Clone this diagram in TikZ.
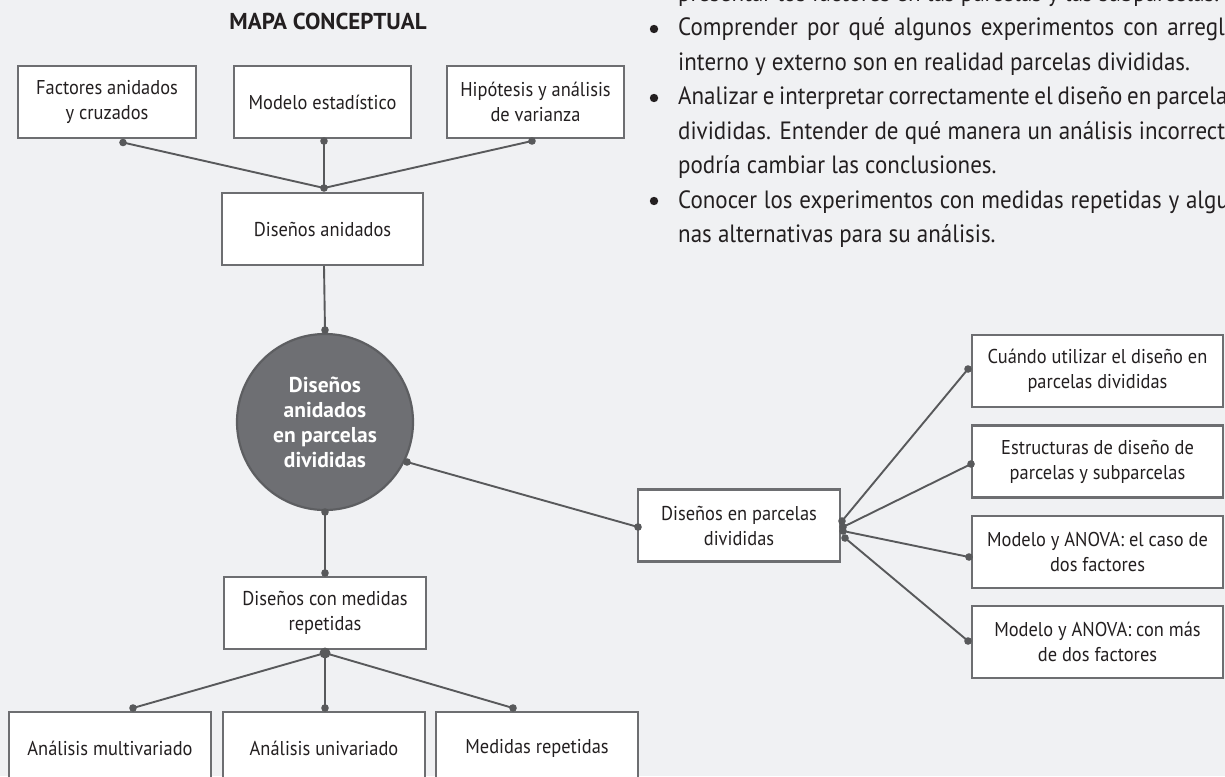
\documentclass[tikz,border=0pt]{standalone}
\usepackage{fontspec}
\setmainfont[FakeStretch=0.92, BoldFeatures={FakeStretch=1.0}]{PT Sans}
\definecolor{bg}{HTML}{F0F1F3}
\definecolor{bordc}{HTML}{6D6E71}
\definecolor{linec}{HTML}{58595B}
\definecolor{circf}{HTML}{6E6F73}
\definecolor{circd}{HTML}{5D5E61}
\definecolor{txt}{HTML}{231F20}
\newcommand{\jline}[1]{\makebox[559pt][s]{#1}}
\begin{document}
\begin{tikzpicture}[x=1pt,y=-1pt,
  box/.style={draw=bordc, line width=2.2pt, fill=white, minimum height=72pt,
    inner sep=0pt, align=center, text=txt, font=\fontsize{20}{25}\selectfont},
  conn/.style={draw=linec, line width=1.9pt},
  dotc/.style={fill=linec},
  para/.style={anchor=base west, inner sep=0pt, text=txt, font=\fontsize{25}{34}\selectfont},
  bul/.style={fill=txt}]
\fill[bg] (0,0) rectangle (1225,776);
\useasboundingbox (0,0) rectangle (1225,776);
\clip (0,0) rectangle (1225,776);

% title
\node[anchor=base, inner sep=0pt, text=txt, font=\fontsize{23}{28}\selectfont\bfseries] (title) at (328,30) {MAPA CONCEPTUAL};

% top boxes
\node[box, minimum width=178pt] (b1) at (107,102) {Factores anidados\\y cruzados};
\node[box, minimum width=177pt] (b2) at (322.5,102) {Modelo estadístico};
\node[box, minimum width=177pt] (b3) at (535.5,102) {Hipótesis y análisis\\de varianza};
\node[box, minimum width=201pt] (da) at (322.5,229) {Diseños anidados};

% central circle
\node[circle, draw=circd, line width=2.2pt, fill=circf, minimum size=176pt, inner sep=0pt,
  align=center, text=white, font=\fontsize{21.5}{25}\selectfont\bfseries] (c) at (325,422)
  {Diseños\\anidados\\en parcelas\\divididas};

% split plot branch
\node[box, minimum width=202pt] (dpd) at (739,525.5) {Diseños en parcelas\\divididas};
\node[box, minimum width=251pt] (r1) at (1097.5,371) {Cuándo utilizar el diseño en\\parcelas divididas};
\node[box, minimum width=251pt] (r2) at (1097.5,461.5) {Estructuras de diseño de\\parcelas y subparcelas};
\node[box, minimum width=251pt] (r3) at (1097.5,552) {Modelo y ANOVA: el caso de\\dos factores};
\node[box, minimum width=251pt] (r4) at (1097.5,642) {Modelo y ANOVA: con más\\de dos factores};

% repeated measures branch
\node[box, minimum width=202pt] (dmr) at (325,613) {Diseños con medidas\\repetidas};
\node[box, minimum width=202pt] (bm) at (110,748) {Análisis multivariado};
\node[box, minimum width=202pt] (bu) at (324,748) {Análisis univariado};
\node[box, minimum width=202pt] (br) at (537,748) {Medidas repetidas};

% connector end points
\coordinate (d1) at (123,142.5);
\coordinate (d2) at (324,141);
\coordinate (d3) at (532,141);
\coordinate (j1) at (324,188);
\coordinate (dab) at (324,266);
\coordinate (ct) at (325,330);
\coordinate (cb) at (325,512);
\coordinate (cr) at (407,462);
\coordinate (pl) at (638,527);
\coordinate (e1) at (842,521);
\coordinate (e2) at (843,527);
\coordinate (e3) at (843,531);
\coordinate (e4) at (845,538);
\coordinate (q1) at (968,369);
\coordinate (q2) at (971,464);
\coordinate (q3) at (969,557);
\coordinate (q4) at (968,641);
\coordinate (mt) at (325,573);
\coordinate (mb) at (325,653);
\coordinate (u1) at (133,708);
\coordinate (u2) at (325,708);
\coordinate (u3) at (513,708);

\draw[conn] (d1) -- (j1);
\draw[conn] (d2) -- (j1);
\draw[conn] (d3) -- (j1);
\draw[conn] (dab) -- (ct);
\draw[conn] (cb) -- (mt);
\draw[conn] (cr) -- (pl);
\draw[conn] (e1) -- (q1);
\draw[conn] (e2) -- (q2);
\draw[conn] (e3) -- (q3);
\draw[conn] (e4) -- (q4);
\draw[conn] (mb) -- (u1);
\draw[conn] (mb) -- (u2);
\draw[conn] (mb) -- (u3);

\foreach \p in {d1,d2,d3,j1,ct,cb,cr,pl,e1,e2,e3,e4,q1,q2,q3,q4,mt,u1,u2,u3}
  \fill[dotc] (\p) circle (3.8pt);
\fill[dotc] (mb) circle (5.5pt);

% objectives text
\node[para] (t0) at (678,1.6) {presentar los factores en las parcelas y las subparcelas.};
\node[para] (t1) at (678,36) {\jline{Comprender por qué algunos experimentos con arreglo}};
\node[para] (t2) at (678,70.4) {interno y externo son en realidad parcelas divididas.};
\node[para] (t3) at (678,104.8) {\jline{Analizar e interpretar correctamente el diseño en parcelas}};
\node[para] (t4) at (678,139.2) {\jline{divididas. Entender de qué manera un análisis incorrecto}};
\node[para] (t5) at (678,173.6) {podría cambiar las conclusiones.};
\node[para] (t6) at (678,208) {\jline{Conocer los experimentos con medidas repetidas y algu-}};
\node[para] (t7) at (678,242.4) {nas alternativas para su análisis.};
\fill[bul] (654,29) circle (4.2pt);
\fill[bul] (654,98) circle (4.2pt);
\fill[bul] (654,201) circle (4.2pt);
\end{tikzpicture}
\end{document}
